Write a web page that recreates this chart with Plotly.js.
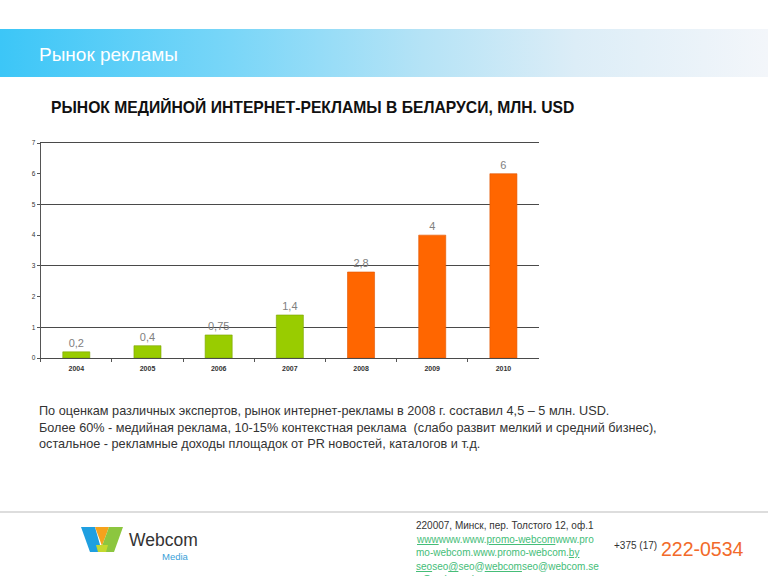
<!DOCTYPE html>
<html>
<head>
<meta charset="utf-8">
<script src="https://cdn.plot.ly/plotly-3.0.1.min.js"></script>
<style>html,body{margin:0;padding:0;background:#fff;}#chart{width:768px;height:576px;}</style>
</head>
<body>
<div id="chart"></div>
<script>
// ---- data ----
const years = ['2004', '2005', '2006', '2007', '2008', '2009', '2010'];
const values = [0.2, 0.4, 0.75, 1.4, 2.8, 4, 6];
const valueLabels = ['0,2', '0,4', '0,75', '1,4', '2,8', '4', '6'];
const firstForecastYear = '2008';
const yTicks = [0, 1, 2, 3, 4, 5, 6, 7];

const headerTitle = 'Рынок рекламы';
const chartTitle = 'РЫНОК МЕДИЙНОЙ ИНТЕРНЕТ-РЕКЛАМЫ В БЕЛАРУСИ, МЛН. USD';
const noteLines = [
  'По оценкам различных экспертов, рынок интернет-рекламы в 2008 г. составил 4,5 – 5 млн. USD.',
  'Более 60% - медийная реклама, 10-15% контекстная реклама  (слабо развит мелкий и средний бизнес),',
  'остальное - рекламные доходы площадок от PR новостей, каталогов и т.д.'
];
const addressLine = '220007, Минск, пер. Толстого 12, оф.1';
const webLines = [
  '<u>www</u>www.www.<u>promo-webcom</u>www.pro',
  'mo-webcom.www.promo-webcom.<u>by</u>',
  '<u>seo</u>seo<u>@</u>seo@<u>webcom</u>seo@webcom.se',
  'o@webcom.by'
];
const phoneCode = '+375 (17)';
const phoneNumber = '222-0534';

// ---- helpers ----
const W = 768, H = 576;
const px = x => x / W;
const py = y => 1 - y / H;
const GREEN = '#99cc00', ORANGE = '#ff6600';
const forecastIdx = years.indexOf(firstForecastYear);
const barColors = years.map((y, i) => i < forecastIdx ? GREEN : ORANGE);
const barLines = years.map((y, i) => i < forecastIdx ? '#7aa300' : '#e05500');
const FONT = 'Liberation Sans, Arial, sans-serif';

const gradSvg = '<svg xmlns="http://www.w3.org/2000/svg" width="768" height="48" preserveAspectRatio="none" viewBox="0 0 768 48">' +
  '<defs><linearGradient id="g" x1="0" y1="0" x2="1" y2="0">' +
  '<stop offset="0" stop-color="#3cc6f7"/>' +
  '<stop offset="0.3" stop-color="#79d6f8"/>' +
  '<stop offset="0.55" stop-color="#b5e3f6"/>' +
  '<stop offset="0.75" stop-color="#dcedf7"/>' +
  '<stop offset="1" stop-color="#f3f6fa"/>' +
  '</linearGradient></defs><rect width="768" height="48" fill="url(#g)"/></svg>';
const gradSrc = 'data:image/svg+xml;charset=utf-8,' + encodeURIComponent(gradSvg);

function poly(pts, color) {
  return {
    type: 'path', xref: 'paper', yref: 'paper',
    path: 'M' + pts.map(p => px(p[0]) + ',' + py(p[1])).join('L') + 'Z',
    fillcolor: color, line: {width: 0}
  };
}

// ---- traces ----
const bars = {
  type: 'bar', x: years, y: values,
  text: valueLabels, textposition: 'outside',
  textfont: {family: FONT, size: 11, color: '#808080'},
  cliponaxis: false,
  marker: {color: barColors, line: {color: barLines, width: 0.6}},
  hoverinfo: 'skip'
};
const gridHelper = {
  type: 'scatter', x: years, y: years.map(() => null),
  yaxis: 'y2', hoverinfo: 'skip', showlegend: false
};

const annotations = [
  {text: headerTitle, x: px(37), y: py(54), xanchor: 'left', yanchor: 'middle',
   font: {family: FONT, size: 19, color: '#ffffff'}},
  {text: '<b>' + chartTitle + '</b>', x: px(49), y: py(107), xanchor: 'left', yanchor: 'middle',
   font: {family: FONT, size: 15.7, color: '#111111'}},
  {text: addressLine, x: px(414), y: py(525), xanchor: 'left', yanchor: 'middle',
   font: {family: FONT, size: 10, color: '#333333'}},
  {text: phoneCode, x: px(612), y: py(545), xanchor: 'left', yanchor: 'middle',
   font: {family: FONT, size: 10, color: '#333333'}},
  {text: phoneNumber, x: px(659), y: py(549), xanchor: 'left', yanchor: 'middle',
   font: {family: FONT, size: 19.5, color: '#f26a2a'}},
  {text: 'Webcom', x: px(127), y: py(540), xanchor: 'left', yanchor: 'middle',
   font: {family: FONT, size: 17.5, color: '#333333'}},
  {text: 'Media', x: px(191), y: py(556), xanchor: 'right', yanchor: 'middle',
   font: {family: FONT, size: 9.5, color: '#3a9fd8'}}
];
const noteY = [411, 428, 444];
noteLines.forEach((t, i) => annotations.push({
  text: t, x: px(37), y: py(noteY[i]), xanchor: 'left', yanchor: 'middle',
  font: {family: FONT, size: 12.7, color: '#333333'}
}));
const webY = [539, 552, 566, 579];
webLines.forEach((t, i) => annotations.push({
  text: t, x: px(414), y: py(webY[i]), xanchor: 'left', yanchor: 'middle',
  font: {family: FONT, size: 10, color: '#45bd78'}
}));
annotations.forEach(a => { a.xref = 'paper'; a.yref = 'paper'; a.showarrow = false; });

const shapes = [
  {type: 'line', xref: 'paper', yref: 'paper', x0: 0, x1: 1, y0: py(512), y1: py(512),
   line: {color: '#dddddd', width: 2}},
  poly([[81, 527], [95, 527], [102, 552], [90, 552]], '#1f9fe0'),
  poly([[95, 527], [109, 527], [102, 546]], '#f5a21c'),
  poly([[109, 527], [123, 527], [114, 552], [102, 552], [102, 546]], '#8cc63f'),
  poly([[96, 545], [108, 545], [106, 552], [98, 552]], '#c4d92e')
];

const layout = {
  width: W, height: H,
  margin: {l: 0, r: 0, t: 0, b: 0},
  paper_bgcolor: '#ffffff', plot_bgcolor: 'rgba(0,0,0,0)',
  showlegend: false,
  bargap: 0.62,
  font: {family: FONT},
  xaxis: {
    domain: [px(40.7), px(539)],
    type: 'category', tickson: 'boundaries',
    ticks: 'outside', ticklen: 3, tickcolor: '#555',
    showline: true, mirror: true, linecolor: '#4a4a4a', linewidth: 1,
    showgrid: false, zeroline: false,
    tickfont: {family: FONT, size: 7, color: '#333', weight: 'bold'},
    ticklabelstandoff: 4
  },
  yaxis: {
    domain: [py(358), py(143)],
    range: [0, 7], tickvals: yTicks, ticktext: yTicks.map(String),
    ticks: 'outside', ticklen: 3, tickcolor: '#555',
    showline: true, linecolor: '#555', linewidth: 1,
    showgrid: false, zeroline: false,
    tickfont: {family: FONT, size: 6.5, color: '#333'}
  },
  yaxis2: {
    overlaying: 'y', range: [0, 7], tick0: 1, dtick: 2,
    showgrid: true, gridcolor: '#4a4a4a', gridwidth: 1,
    showticklabels: false, ticks: '', zeroline: false, showline: false
  },
  images: [{source: gradSrc, xref: 'paper', yref: 'paper', x: 0, y: py(29),
            sizex: 1, sizey: 48 / H, sizing: 'stretch', xanchor: 'left', yanchor: 'top', layer: 'below'}],
  annotations: annotations,
  shapes: shapes
};

Plotly.newPlot('chart', [bars, gridHelper], layout, {staticPlot: true, displayModeBar: false});
</script>
</body>
</html>
